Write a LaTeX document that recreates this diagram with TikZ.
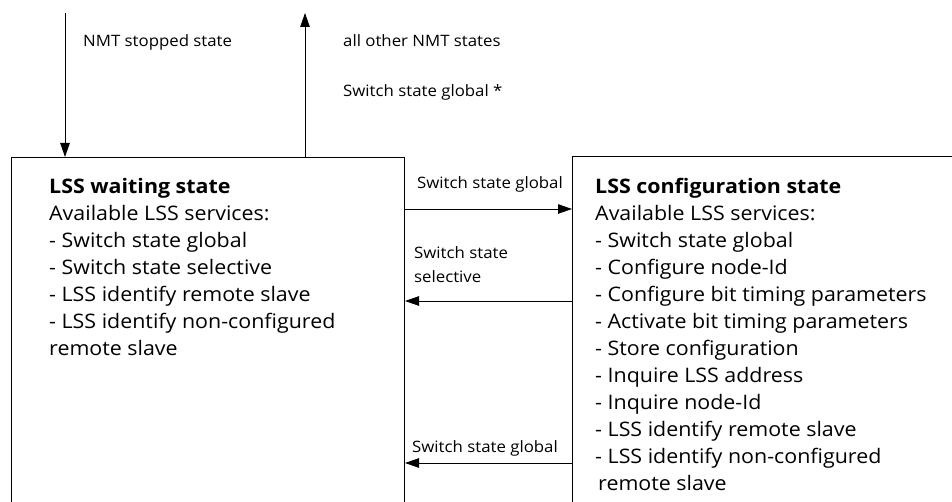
\documentclass[tikz,border=0pt]{standalone}
\usepackage{fontspec}
\setmainfont[FakeStretch=1.07]{Open Sans}
\usetikzlibrary{arrows.meta,positioning}
\tikzset{>={Triangle[length=14pt,width=9.5pt]},
  statebox/.style={draw,line width=1pt,anchor=north west,minimum height=400pt},
  statetext/.style={anchor=north west,align=left,inner sep=0pt,
    font=\fontsize{20}{27}\selectfont},
  translabel/.style={anchor=west,inner sep=0pt,align=left,
    font=\fontsize{15.7}{24}\selectfont},
  trans/.style={->,line width=0.9pt}}

\begin{document}
\begin{tikzpicture}[x=1pt,y=1pt]
  \useasboundingbox (0,0) rectangle (952,-502);
  % state boxes
  \node[statebox,minimum width=393pt] (wait) at (11,-157) {};
  \node[statebox,minimum width=400pt] (conf) at (572,-156) {};
  \node[statetext,below right=21pt and 38pt of wait.north west] (waittxt)
    {\textbf{LSS waiting state}\\
     Available LSS services:\\
     - Switch state global\\
     - Switch state selective\\
     - LSS identify remote slave\\
     - LSS identify non-configured\\
     remote slave};
  \node[statetext,below right=22pt and 23pt of conf.north west] (conftxt)
    {\textbf{LSS configuration state}\\
     Available LSS services:\\
     - Switch state global\\
     - Configure node-Id\\
     - Configure bit timing parameters\\
     - Activate bit timing parameters\\
     - Store configuration\\
     - Inquire LSS address\\
     - Inquire node-Id\\
     - LSS identify remote slave\\
     - LSS identify non-configured\\
     \hspace{3pt}remote slave};
  % free ends and levels
  \coordinate (nmtin) at (65,-13);
  \coordinate (nmtout) at (305,-13);
  \coordinate (glob) at (0,-209);
  \coordinate (sel) at (0,-301);
  \coordinate (back) at (0,-463);
  % transitions
  \draw[trans] (nmtin) -- (nmtin |- wait.north);
  \draw[trans] (nmtout |- wait.north) -- (nmtout);
  \draw[trans] (glob -| wait.east) -- (glob -| conf.west);
  \draw[trans] (sel -| conf.west) -- (sel -| wait.east);
  \draw[trans] (back -| conf.west) -- (back -| wait.east);
  % labels
  \node[translabel] (lstop) at (83,-42) {NMT stopped state};
  \node[translabel] (lother) at (343,-41) {all other NMT states};
  \node[translabel] (lglobstar) at (343,-92) {Switch state global *};
  \node[translabel] (lglob) at (417,-184) {Switch state global};
  \node[translabel] (lsel) at (414,-265) {Switch state\\selective};
  \node[translabel] (lback) at (412,-448) {Switch state global};
\end{tikzpicture}
\end{document}
